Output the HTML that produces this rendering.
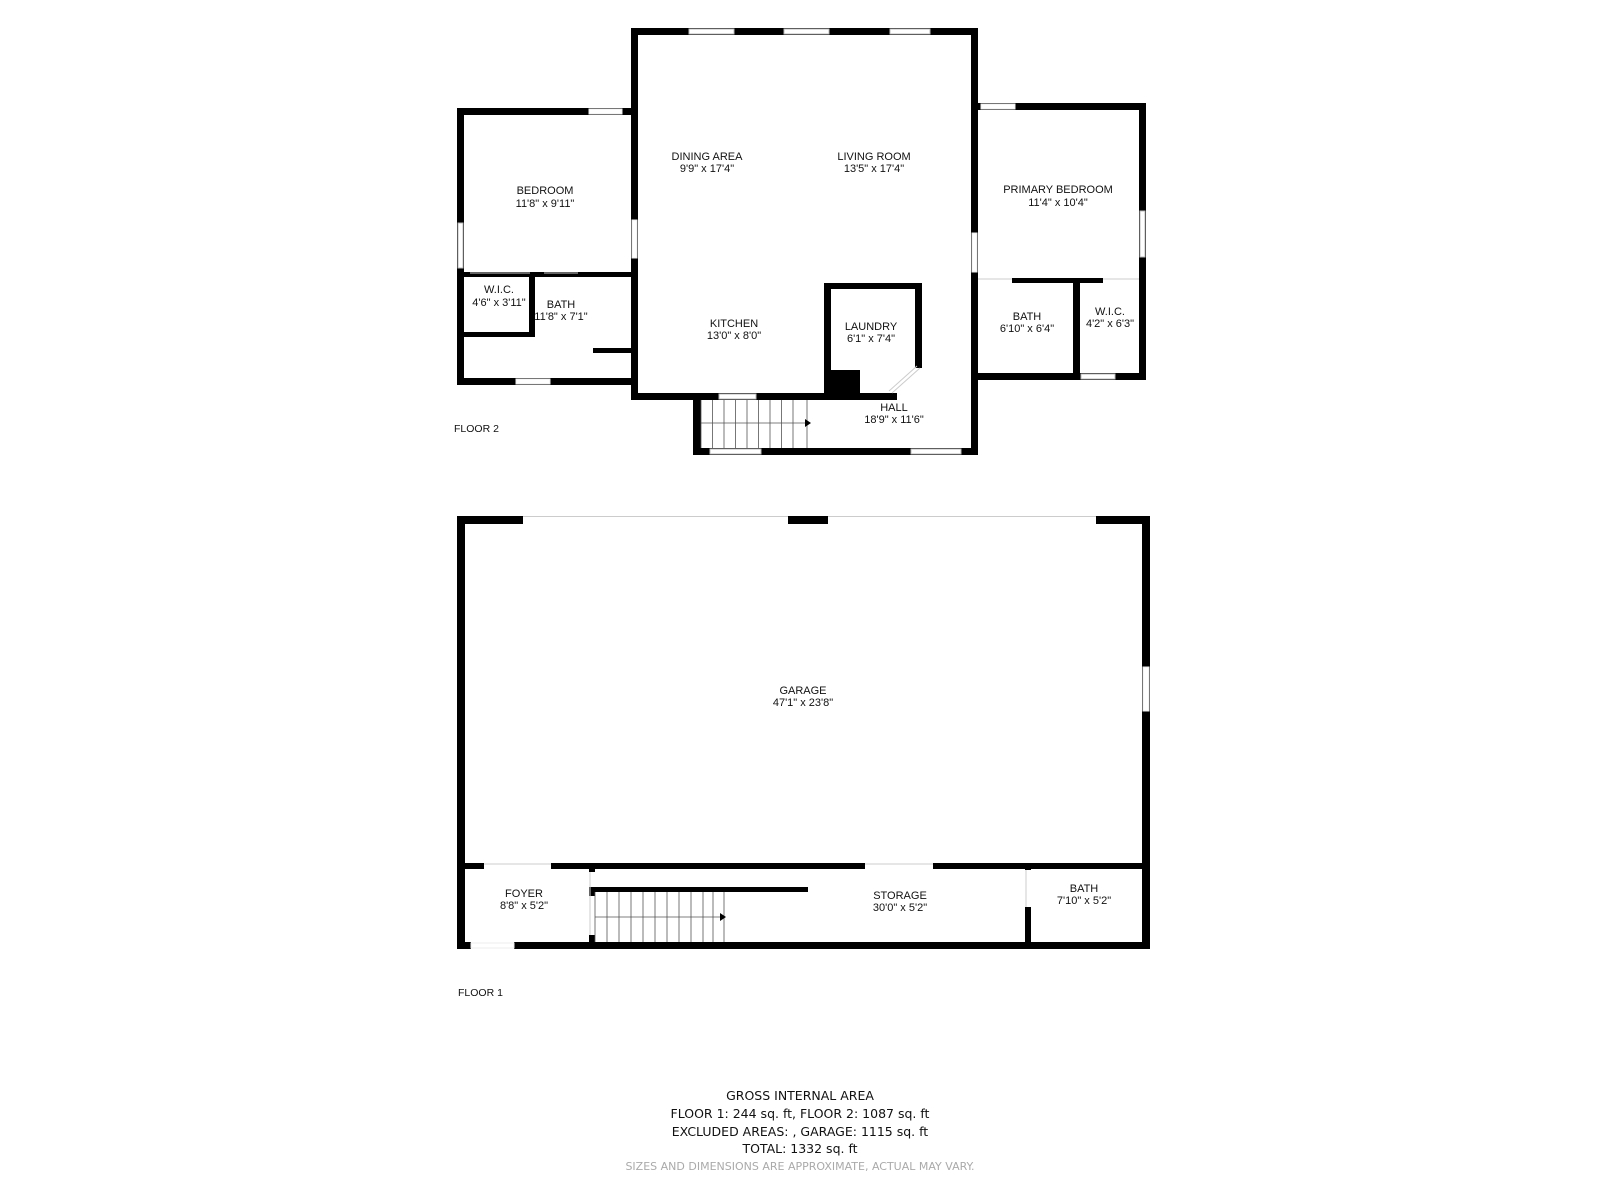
<!DOCTYPE html>
<html><head><meta charset="utf-8"><style>
html,body{margin:0;padding:0;background:#fff}
svg{display:block}
.l{font-family:"Liberation Sans",Arial,sans-serif;font-size:11px;fill:#111;text-anchor:middle}
.f{font-family:"Liberation Sans",Arial,sans-serif;font-size:10.5px;fill:#111}
.g{font-family:"DejaVu Sans",sans-serif;font-size:12.5px;fill:#111;text-anchor:middle}
</style></head><body>
<svg width="1600" height="1200" viewBox="0 0 1600 1200" xmlns="http://www.w3.org/2000/svg">
<rect width="1600" height="1200" fill="#fff"/>
<g fill="#000">
<rect x="631" y="28" width="347" height="7"/>
<rect x="631" y="28" width="7" height="372"/>
<rect x="971" y="28" width="7" height="427"/>
<rect x="631" y="393" width="266" height="7"/>
<rect x="693" y="393" width="8" height="62"/>
<rect x="693" y="448" width="285" height="7"/>
<rect x="457" y="108" width="181" height="7"/>
<rect x="457" y="108" width="7" height="277"/>
<rect x="457" y="378" width="181" height="7"/>
<rect x="457" y="272" width="174" height="5"/>
<rect x="529" y="272" width="6" height="65"/>
<rect x="457" y="332" width="78" height="5"/>
<rect x="593" y="348" width="38" height="5"/>
<rect x="971" y="103" width="175" height="7"/>
<rect x="1139" y="103" width="7" height="277"/>
<rect x="971" y="373" width="175" height="7"/>
<rect x="1012" y="278" width="91" height="5"/>
<rect x="1073" y="278" width="7" height="102"/>
<rect x="824" y="283" width="98" height="6"/>
<rect x="824" y="283" width="7" height="117"/>
<rect x="915" y="283" width="7" height="85"/>
<rect x="831" y="370" width="29" height="23"/>
<rect x="457" y="516" width="66" height="8"/>
<rect x="788" y="516" width="40" height="8"/>
<rect x="1096" y="516" width="54" height="8"/>
<rect x="457" y="516" width="8" height="433"/>
<rect x="1142" y="516" width="8" height="433"/>
<rect x="457" y="942" width="14" height="7"/>
<rect x="514" y="942" width="636" height="7"/>
<rect x="457" y="863" width="27" height="6"/>
<rect x="551" y="863" width="314" height="6"/>
<rect x="933" y="863" width="217" height="6"/>
<rect x="589" y="868" width="6" height="4"/>
<rect x="589" y="935" width="6" height="7"/>
<rect x="589" y="887" width="219" height="5"/>
<rect x="589" y="887" width="6" height="9"/>
<rect x="1025" y="907" width="6" height="35"/>
<rect x="1025" y="863" width="6" height="7"/>
</g>
<g fill="#fff" stroke="#bbb" stroke-width="1">
<rect x="689" y="29" width="45" height="5"/>
<rect x="784" y="29" width="45" height="5"/>
<rect x="890" y="29" width="40" height="5"/>
<rect x="632" y="220" width="5" height="38" stroke="#eee"/>
<rect x="972" y="233" width="5" height="39" stroke="#eee"/>
<rect x="719" y="394" width="37" height="5"/>
<rect x="710" y="449" width="51" height="5"/>
<rect x="911" y="449" width="50" height="5"/>
<rect x="589" y="109" width="33" height="5" stroke="#eee"/>
<rect x="458" y="223" width="5" height="45"/>
<rect x="516" y="379" width="34" height="5" stroke="#eee"/>
<rect x="981" y="104" width="34" height="5" stroke="#eee"/>
<rect x="1140" y="211" width="5" height="46"/>
<rect x="1081" y="374" width="34" height="5"/>
<rect x="1143" y="667" width="6" height="44" stroke="#eee"/>
<rect x="471" y="943" width="43" height="5" stroke="#eee"/>
</g>
<g stroke="#ccc" stroke-width="1" fill="none">
<line x1="523" y1="516.5" x2="788" y2="516.5"/>
<line x1="828" y1="516.5" x2="1096" y2="516.5"/>
<line x1="470" y1="273" x2="530" y2="273"/>
<line x1="544" y1="273" x2="578" y2="273"/>
<line x1="978" y1="279" x2="1012" y2="279"/>
<line x1="1103" y1="279" x2="1139" y2="279"/>
<line x1="484" y1="864" x2="551" y2="864"/>
<line x1="865" y1="864" x2="933" y2="864"/>
<line x1="590" y1="872" x2="590" y2="935"/>
<line x1="1026" y1="870" x2="1026" y2="907"/>
<line x1="920" y1="368" x2="892" y2="393"/>
<line x1="917" y1="366" x2="889" y2="391"/>
</g>
<g stroke="#555" stroke-width="0.8">
<line x1="701" y1="400" x2="701" y2="448"/><line x1="712.5" y1="400" x2="712.5" y2="448"/><line x1="724" y1="400" x2="724" y2="448"/><line x1="735.5" y1="400" x2="735.5" y2="448"/><line x1="747" y1="400" x2="747" y2="448"/><line x1="758.5" y1="400" x2="758.5" y2="448"/><line x1="770" y1="400" x2="770" y2="448"/><line x1="781.5" y1="400" x2="781.5" y2="448"/><line x1="793" y1="400" x2="793" y2="448"/><line x1="807" y1="400" x2="807" y2="448"/>
<line x1="701" y1="423" x2="805" y2="423"/>
<line x1="595" y1="892" x2="595" y2="942"/><line x1="607" y1="892" x2="607" y2="942"/><line x1="619" y1="892" x2="619" y2="942"/><line x1="631" y1="892" x2="631" y2="942"/><line x1="643" y1="892" x2="643" y2="942"/><line x1="655" y1="892" x2="655" y2="942"/><line x1="667" y1="892" x2="667" y2="942"/><line x1="679" y1="892" x2="679" y2="942"/><line x1="691" y1="892" x2="691" y2="942"/><line x1="703" y1="892" x2="703" y2="942"/><line x1="713" y1="892" x2="713" y2="942"/><line x1="724" y1="892" x2="724" y2="942"/>
<line x1="595" y1="917" x2="720" y2="917"/>
</g>
<polygon points="805,419 811,423 805,427" fill="#000"/>
<polygon points="720,913 726,917 720,921" fill="#000"/>
<text class="l" x="707" y="160">DINING AREA</text><text class="l" x="707" y="172">9'9" x 17'4"</text>
<text class="l" x="874" y="160">LIVING ROOM</text><text class="l" x="874" y="172">13'5" x 17'4"</text>
<text class="l" x="545" y="194">BEDROOM</text><text class="l" x="545" y="207">11'8" x 9'11"</text>
<text class="l" x="1058" y="193">PRIMARY BEDROOM</text><text class="l" x="1058" y="206">11'4" x 10'4"</text>
<text class="l" x="499" y="293">W.I.C.</text><text class="l" x="499" y="306">4'6" x 3'11"</text>
<text class="l" x="561" y="308">BATH</text><text class="l" x="561" y="320">11'8" x 7'1"</text>
<text class="l" x="734" y="327">KITCHEN</text><text class="l" x="734" y="339">13'0" x 8'0"</text>
<text class="l" x="871" y="330">LAUNDRY</text><text class="l" x="871" y="342">6'1" x 7'4"</text>
<text class="l" x="1027" y="320">BATH</text><text class="l" x="1027" y="332">6'10" x 6'4"</text>
<text class="l" x="1110" y="315">W.I.C.</text><text class="l" x="1110" y="327">4'2" x 6'3"</text>
<text class="l" x="894" y="411">HALL</text><text class="l" x="894" y="423">18'9" x 11'6"</text>
<text class="f" x="454" y="432">FLOOR 2</text>
<text class="l" x="803" y="694">GARAGE</text><text class="l" x="803" y="706">47'1" x 23'8"</text>
<text class="l" x="524" y="897">FOYER</text><text class="l" x="524" y="909">8'8" x 5'2"</text>
<text class="l" x="900" y="899">STORAGE</text><text class="l" x="900" y="911">30'0" x 5'2"</text>
<text class="l" x="1084" y="892">BATH</text><text class="l" x="1084" y="904">7'10" x 5'2"</text>
<text class="f" x="458" y="996">FLOOR 1</text>
<text class="g" x="800" y="1100">GROSS INTERNAL AREA</text>
<text class="g" x="800" y="1118">FLOOR 1: 244 sq. ft, FLOOR 2: 1087 sq. ft</text>
<text class="g" x="800" y="1136">EXCLUDED AREAS: , GARAGE: 1115 sq. ft</text>
<text class="g" x="800" y="1153">TOTAL: 1332 sq. ft</text>
<text class="g" x="800" y="1170" style="font-size:11px;fill:#aaa">SIZES AND DIMENSIONS ARE APPROXIMATE, ACTUAL MAY VARY.</text>
</svg>
</body></html>
